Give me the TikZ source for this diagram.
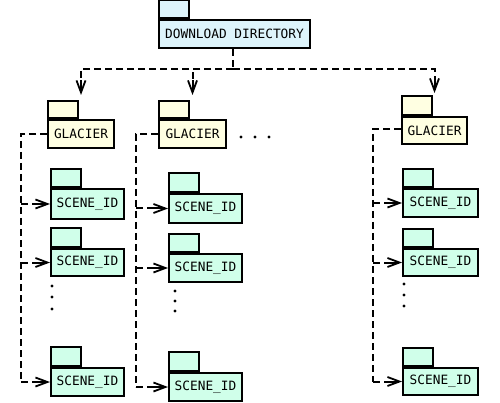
\documentclass[tikz,border=0pt]{standalone}
\usepackage{fontspec}
\newfontfamily\dvm{DejaVu Sans Mono}
\usetikzlibrary{arrows.meta}
\definecolor{dircol}{RGB}{221,244,251}
\definecolor{glacol}{RGB}{255,255,226}
\definecolor{scecol}{RGB}{208,255,234}
\tikzset{
  box/.style={draw=black, line width=2pt, inner sep=0pt, font=\dvm\fontsize{12.8}{14}\selectfont},
  dirbox/.style={box, fill=dircol},
  glabox/.style={box, fill=glacol},
  scebox/.style={box, fill=scecol},
  dl/.style={line width=2pt, dash pattern=on 7pt off 4pt},
  tipl/.style={line width=2pt, -{Straight Barb[length=12pt,width=9pt,line width=1.8pt]}},
  dotc/.style={fill=black, circle, inner sep=0pt, minimum size=3.2pt}
}
% name, style, x1, x2, ytab, ybody, ybot, text
\newcommand\pkg[8]{%
  \node[#2, minimum width={#4-#3}, minimum height={#7-#6}, anchor=north west] (#1) at (#3,#6) {#8};
  \node[#2, minimum width=30, minimum height={#6-#5}, anchor=south west] (#1t) at (#1.north west) {};
}
% horizontal arrow: from trunk coordinate #1 to node #2 west
\newcommand\harr[2]{%
  \draw[dl] (#1 |- #2.west) -- ([xshift=-15pt]#2.west);
  \draw[tipl] ([xshift=-15pt]#2.west) -- (#2.west);
}
% vertical arrow from junction #1 to package #2, gap #3
\newcommand\varr[3]{%
  \draw[dl] (#1) -| ([yshift={#3+15}]#2t.north -| #2.north);
  \draw[tipl] ([yshift={#3+15}]#2t.north -| #2.north) -- ([yshift=#3]#2t.north -| #2.north);
}
\begin{document}
\begin{tikzpicture}[x=1pt, y=-1pt]
\useasboundingbox (0,0) rectangle (500,403);
\pkg{d}{dirbox}{158}{309}{1}{19}{47}{DOWNLOAD DIRECTORY}
\pkg{g1}{glabox}{47}{113}{102}{119}{147}{GLACIER}
\pkg{g2}{glabox}{158}{225}{102}{119}{147}{GLACIER}
\pkg{g3}{glabox}{401}{466}{97}{116}{143}{GLACIER}
% column 1
\pkg{s11}{scebox}{50}{123}{170}{188}{218}{SCENE\_ID}
\pkg{s12}{scebox}{50}{123}{229}{248}{275}{SCENE\_ID}
\pkg{s13}{scebox}{50}{123}{348}{367}{395}{SCENE\_ID}
% column 2
\pkg{s21}{scebox}{168}{241}{174}{193}{222}{SCENE\_ID}
\pkg{s22}{scebox}{168}{241}{235}{253}{281}{SCENE\_ID}
\pkg{s23}{scebox}{168}{241}{353}{372}{400}{SCENE\_ID}
% column 3
\pkg{s31}{scebox}{402}{477}{170}{188}{216}{SCENE\_ID}
\pkg{s32}{scebox}{402}{477}{230}{248}{275}{SCENE\_ID}
\pkg{s33}{scebox}{402}{477}{349}{367}{394}{SCENE\_ID}
% top connectors
\coordinate (j) at (233,69);
\draw[dl] (d.south -| j) -- (j);
\varr{j}{g1}{5}
\varr{j}{g2}{5}
\varr{j}{g3}{2}
% column trunks
\coordinate (c1) at (21,134);
\coordinate (c2) at (136,134);
\coordinate (c3) at (373,129);
\draw[dl] (g1.west |- c1) -- (c1) -- (c1 |- s13.west);
\harr{c1}{s11}
\harr{c1}{s12}
\harr{c1}{s13}
\draw[dl] (g2.west |- c2) -- (c2) -- (c2 |- s23.west);
\harr{c2}{s21}
\harr{c2}{s22}
\harr{c2}{s23}
\draw[dl] (g3.west |- c3) -- (c3) -- (c3 |- s33.west);
\harr{c3}{s31}
\harr{c3}{s32}
\harr{c3}{s33}
% ellipsis dots
\node[dotc] (h1) at (241,137) {};
\node[dotc] (h2) at (255,137) {};
\node[dotc] (h3) at (269,137) {};
\node[dotc] (v11) at (52,286) {};
\node[dotc] (v12) at (52,297) {};
\node[dotc] (v13) at (52,309) {};
\node[dotc] (v21) at (175,291) {};
\node[dotc] (v22) at (175,301) {};
\node[dotc] (v23) at (175,311) {};
\node[dotc] (v31) at (404,284) {};
\node[dotc] (v32) at (404,295) {};
\node[dotc] (v33) at (404,306) {};
\end{tikzpicture}
\end{document}
